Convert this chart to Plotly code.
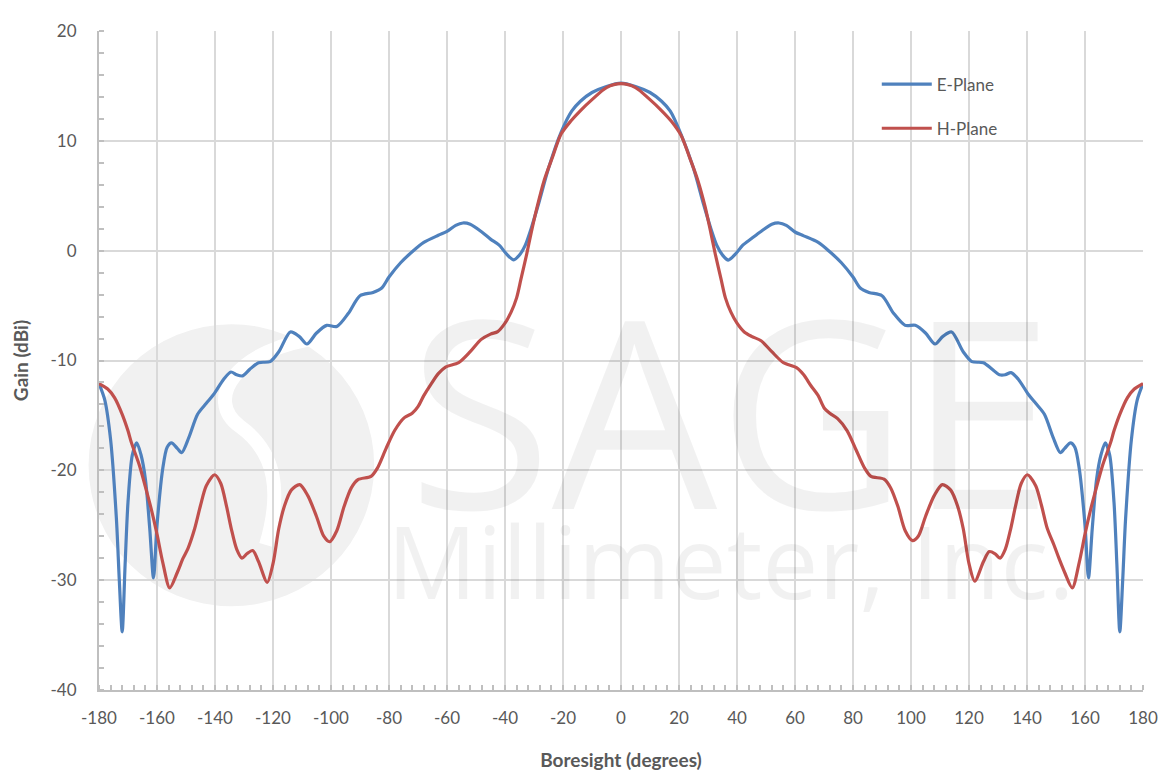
import plotly.graph_objects as go

# ---- data ----
e_angle = [-180, -178, -176, -174, -173, -172, -171, -170, -168.5, -167, -165.5, -164, -162.5, -161.2, -160,
           -158, -156.5, -155, -153, -151.5, -149, -146, -143, -140.5, -137, -134.5, -132.5, -130.5, -128, -125,
           -121, -118, -114, -111, -108.3, -105, -101.5, -98, -94, -90, -85.5, -82.5, -80, -76, -72, -68, -63,
           -60, -57, -54.5, -52, -48, -45, -42, -39.5, -37, -35, -33, -31, -28.5, -25, -20.7, -17, -14, -10, -5,
           0,
           5, 10, 14, 17, 20.7, 25, 28.5, 31, 33, 35, 37, 39.5, 42, 45, 48, 52, 54.5, 57, 60, 63, 68, 72, 76, 80,
           82.5, 85.5, 90, 94, 98, 101.5, 105, 108.3, 111, 114, 118, 121, 125, 128, 130.5, 132.5, 134.5, 137,
           140.5, 143, 146, 149, 151.5, 153, 155, 156.5, 158, 160, 161.2, 162.5, 164, 165.5, 167, 168.5, 170,
           171, 172, 173, 174, 176, 178, 180]
e_gain = [-12.1, -13.6, -17.2, -24.4, -30.0, -34.7, -28.6, -22.9, -18.6, -17.5, -18.6, -20.8, -25.3, -29.8, -25.0,
          -19.8, -17.9, -17.5, -18.0, -18.4, -17.0, -14.9, -13.9, -13.1, -11.7, -11.05, -11.3, -11.4, -10.8, -10.2,
          -10.1, -9.2, -7.4, -7.8, -8.5, -7.5, -6.8, -6.9, -5.7, -4.1, -3.8, -3.4, -2.4, -1.1, -0.1, 0.75, 1.4,
          1.75, 2.3, 2.52, 2.4, 1.7, 1.05, 0.5, -0.3, -0.84, -0.4, 0.5, 2.0, 4.2, 7.5, 10.75, 12.7, 13.6, 14.4, 14.95,
          15.25,
          14.95, 14.4, 13.6, 12.7, 10.6, 7.5, 4.2, 2.0, 0.5, -0.4, -0.86, -0.3, 0.5, 1.1, 1.7, 2.4, 2.52, 2.3, 1.7,
          1.35, 0.75, -0.1, -1.1, -2.4, -3.4, -3.8, -4.1, -5.7, -6.8, -6.8, -7.5, -8.5, -7.8, -7.4, -9.2, -10.1,
          -10.2, -10.8, -11.3, -11.3, -11.1, -11.7, -13.1, -13.9, -14.9, -17.0, -18.4, -18.0, -17.5, -17.9, -19.8,
          -25.0, -29.8, -25.3, -20.8, -18.6, -17.5, -18.6, -22.9, -28.6, -34.7, -30.0, -24.4, -17.2, -13.6, -12.1]

h_angle = [-180, -177, -174.6, -172, -170, -168.8, -166, -164, -162, -160, -158, -155.6, -153, -151, -149.3, -147,
           -145, -143, -140.1, -138, -136, -134.4, -132.5, -130.7, -129, -127, -125, -122, -120, -118, -116,
           -113.7, -110.8, -108, -105, -102.5, -100.5, -98, -95.5, -93, -90.7, -86.2, -84, -81, -78, -74.7, -72,
           -70, -68, -65.5, -63, -60.5, -56, -52, -48.3, -45, -42.5, -40, -37.9, -36, -34.5, -32.5, -31, -29,
           -26.5, -23.5, -20.7, -17.3, -13.8, -10, -5,
           0,
           5, 10, 13.8, 17.3, 20.7, 23.5, 26.5, 29, 31, 32.5, 34.5, 36, 37.9, 40, 42.5, 45, 48.3, 52, 56, 60.5, 63,
           65.5, 68, 70, 72, 74.7, 78, 81, 84, 86.2, 90.7, 93, 95.5, 98, 100.5, 102.5, 105, 108, 110.8, 113.7, 116,
           118, 120, 122, 125, 127, 129, 130.7, 132.5, 134.4, 136, 138, 140.1, 143, 145, 147, 149.3, 151, 153,
           155.6, 158, 160, 162, 164, 166, 168.8, 170, 172, 174.6, 177, 180]
h_gain = [-12.1, -12.6, -13.4, -14.9, -16.4, -17.5, -19.6, -21.5, -23.5, -25.8, -28.4, -30.7, -29.3, -28.0, -27.1,
          -25.3, -23.2, -21.4, -20.4, -21.2, -23.3, -25.3, -27.2, -28.0, -27.6, -27.3, -28.3, -30.2, -28.5, -25.3,
          -23.2, -21.8, -21.3, -22.3, -24.2, -26.0, -26.5, -25.5, -23.3, -21.6, -20.85, -20.55, -19.8, -18.0,
          -16.35, -15.2, -14.8, -14.2, -13.2, -12.15, -11.2, -10.6, -10.2, -9.2, -8.1, -7.6, -7.37, -6.6, -5.6,
          -4.3, -2.6, -0.3, 1.6, 3.9, 6.4, 8.6, 10.6, 11.8, 12.8, 13.75, 14.85,
          15.2,
          14.85, 13.75, 12.8, 11.8, 10.5, 8.6, 6.4, 4.0, 1.6, -0.3, -2.6, -4.3, -5.6, -6.6, -7.4, -7.8, -8.2,
          -9.2, -10.2, -10.65, -11.3, -12.3, -13.2, -14.3, -14.8, -15.3, -16.4, -18.1, -19.8, -20.55, -20.8, -21.6,
          -23.3, -25.5, -26.4, -26.0, -24.2, -22.3, -21.3, -21.8, -23.2, -25.3, -28.5, -30.1, -28.3, -27.4, -27.6,
          -28.0, -27.2, -25.3, -23.3, -21.2, -20.4, -21.4, -23.2, -25.3, -26.8, -28.0, -29.3, -30.7, -28.4, -25.8,
          -23.5, -21.5, -19.6, -17.5, -16.4, -14.9, -13.4, -12.6, -12.1]

x_ticks = list(range(-180, 181, 20))
y_ticks = list(range(-40, 21, 10))

TXT = "#595959"
GRID = "#d9d9d9"
AXIS = "#bfbfbf"
FONT = "Lato, 'Open Sans', sans-serif"

fig = go.Figure()
fig.add_trace(go.Scatter(x=e_angle, y=e_gain, name="E-Plane", mode="lines", legendgroup="e",
                         line=dict(color="#4f81bd", width=3.2, shape="spline", smoothing=0.8)))
fig.add_trace(go.Scatter(x=h_angle, y=h_gain, name="H-Plane", mode="lines", legendgroup="h",
                         line=dict(color="#c0504d", width=3.2, shape="spline", smoothing=0.8)))

# watermark logo (paper coordinates, below the grid)
fig.add_shape(type="circle", xref="paper", yref="paper", x0=-0.010, x1=0.2636, y0=0.127, y1=0.555,
              fillcolor="#f1f1f1", line=dict(width=0), layer="below")
fig.add_shape(type="path", xref="paper", yref="paper", layer="below",
              path="M 0.215,0.535 C 0.13,0.52 0.10,0.44 0.135,0.40 C 0.17,0.36 0.175,0.30 0.16,0.22",
              line=dict(color="white", width=14))

# watermark text, one two-line annotation (translucent so the curves and grid stay visible)
fig.add_annotation(
    text="<span style='font-size:262px'>SAGE</span><br><span style='font-size:100px'>Millimeter, Inc.</span>",
    xref="paper", yref="paper", x=0.605, y=0.397, showarrow=False, align="center",
    font=dict(family="'Open Sans', sans-serif", size=69, color="rgba(0,0,0,0.055)"),
    xanchor="center", yanchor="middle")

# the page body adds an 8px offset; margins compensate so the plot area lands where the reference has it
fig.update_layout(
    width=1167, height=776,
    margin=dict(l=89.5, r=32.3, t=14, b=94),
    paper_bgcolor="white", plot_bgcolor="white",
    font=dict(family=FONT, color=TXT, size=17),
    showlegend=True,
    legend=dict(x=0.745, y=0.946, xanchor="left", yanchor="top", bgcolor="rgba(0,0,0,0)",
                font=dict(size=17, color=TXT), tracegroupgap=19, itemwidth=50),
)
fig.update_xaxes(range=[-180, 180], tickvals=x_ticks, ticktext=[str(v) for v in x_ticks],
                 showgrid=True, gridcolor=GRID, gridwidth=1.5, zeroline=False,
                 showline=True, linecolor=AXIS, linewidth=2, ticks="",
                 minor=dict(dtick=4, ticks="inside", ticklen=5, tickcolor=AXIS, tickwidth=1.5, showgrid=False),
                 tickfont=dict(size=17, color=TXT), ticklabelstandoff=12,
                 title=dict(text="<b>Boresight (degrees)</b>", font=dict(size=19, color=TXT), standoff=26))
fig.update_yaxes(range=[-40, 20], tickvals=y_ticks, ticktext=[str(v) for v in y_ticks],
                 showgrid=True, gridcolor=GRID, gridwidth=1.5, zeroline=False,
                 showline=True, linecolor=AXIS, linewidth=2, ticks="",
                 minor=dict(dtick=2, ticks="inside", ticklen=5, tickcolor=AXIS, tickwidth=1.5, showgrid=False),
                 tickfont=dict(size=17, color=TXT), ticklabelstandoff=17,
                 title=dict(text="<b>Gain (dBi)</b>", font=dict(size=19, color=TXT), standoff=17))

fig.write_html("out.html")
